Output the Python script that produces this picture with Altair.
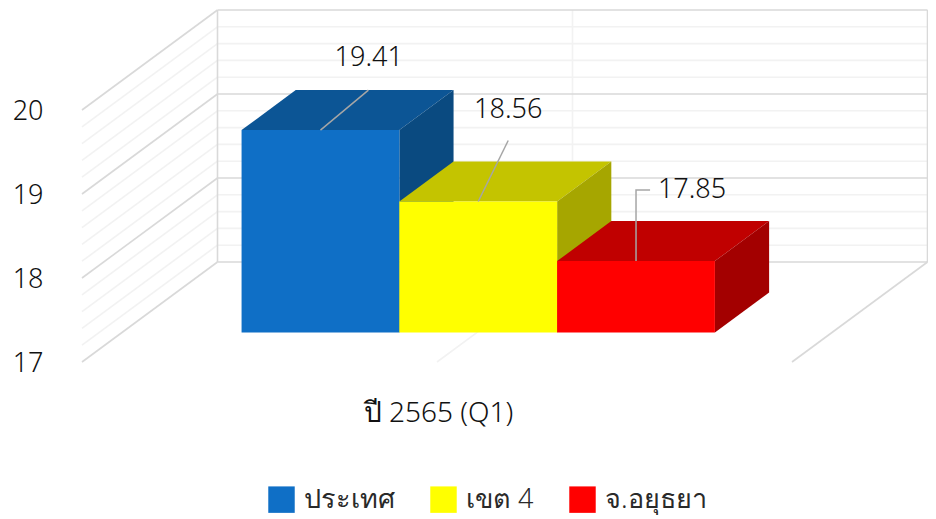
import altair as alt
import pandas as pd

# ---- chart values ----
SERIES = ["ประเทศ", "เขต 4", "จ.อยุธยา"]
VALUES = [19.41, 18.56, 17.85]
LABELS = ["19.41", "18.56", "17.85"]
CATEGORY = "ปี 2565 (Q1)"
FRONT = ["#0F6FC6", "#FFFF00", "#FF0000"]
TOP = ["#0C5595", "#C4C400", "#C00000"]
SIDE = ["#0A4A80", "#A6A600", "#A30000"]
MAJOR = [17, 18, 19, 20]
MINOR = [17.2, 17.4, 17.6, 17.8, 18.2, 18.4, 18.6, 18.8, 19.2, 19.4, 19.6, 19.8]
BASE = 17
# leader and label offsets from each bar's top centre, in (category units, value units)
LEADER_DU = [[0.304], [0.19], [0.0, 0.089]]
LEADER_DV = [[0.476], [0.726], [0.845, 0.845]]
LABEL_DU = [0.306, 0.19, 0.355]
LABEL_DV = [0.857, 1.083, 0.845]

# ---- oblique projection of the 3-D chart box ----
DEPTH_U = 0.8588   # shift in category units for full depth
DEPTH_V = 1.1905   # shift in value units for full depth
WALL_U = 4.5       # 3 bars + gap width 150 %
BAR_LEFT = 0.758
D_FRONT, D_BACK = 0.295, 0.695

PLOT_W, PLOT_H = 846, 354
FONT = "Noto Sans"
WEIGHT = 300
SIZE = 27
TEXT = "#111111"
xscale = alt.Scale(domain=[0, PLOT_W / 157.78], nice=False, zero=False)
yscale = alt.Scale(domain=[17, 17 + PLOT_H / 84], nice=False, zero=False)
xaxis = alt.Axis(
    title=CATEGORY, labels=False, ticks=False, domain=False, grid=False,
    titleX=356, titleY=51, titleFont=FONT, titleFontSize=28,
    titleFontWeight=WEIGHT, titleColor=TEXT,
    titleAlign="center", titleBaseline="middle",
)
yaxis = alt.Axis(
    title=None, values=MAJOR, format="d", ticks=False, domain=False, grid=False,
    labelFont=FONT, labelFontSize=SIZE, labelFontWeight=WEIGHT, labelColor=TEXT,
    labelPadding=39, labelOffset=1,
)


def px(u, d):
    return u + d * DEPTH_U


def py(v, d):
    return v + d * DEPTH_V


X = alt.X("x:Q", scale=xscale, axis=xaxis, stack=False)
Y = alt.Y("y:Q", scale=yscale, axis=yaxis, stack=False)

layers = []


def lines(rows, color, width=1.6):
    df = pd.DataFrame(rows, columns=["id", "x", "y"])
    return alt.Chart(df).mark_line(color=color, strokeWidth=width).encode(x=X, y=Y, detail="id:N")


def wall_rows(values):
    rows = []
    for v in values:
        rows += [(f"L{v}", px(0, 0), py(v, 0)), (f"L{v}", px(0, 1), py(v, 1))]
        rows += [(f"B{v}", px(0, 1), py(v, 1)), (f"B{v}", px(WALL_U, 1), py(v, 1))]
    return rows


layers.append(
    lines(
        wall_rows(MINOR)
        + [("cv", px(WALL_U / 2, 1), py(17, 1)), ("cv", px(WALL_U / 2, 1), py(20, 1))]
        + [("cf", px(WALL_U / 2, 0), py(17, 0)), ("cf", px(WALL_U / 2, 1), py(17, 1))],
        "#F2F2F2",
    )
)
layers.append(
    lines(
        wall_rows(MAJOR)
        + [("rf", px(WALL_U, 0), py(17, 0)), ("rf", px(WALL_U, 1), py(17, 1))]
        + [("lv", px(0, 1), py(17, 1)), ("lv", px(0, 1), py(20, 1))]
        + [("rv", px(WALL_U, 1), py(17, 1)), ("rv", px(WALL_U, 1), py(20, 1))],
        "#D9D9D9",
    )
)

# bars: top, side, then front so that later bars cover earlier ones
color = alt.Color(
    "series:N",
    sort=SERIES,
    scale=alt.Scale(domain=SERIES, range=FRONT),
    legend=alt.Legend(
        title=None, orient="none", legendX=186, legendY=478, direction="horizontal",
        columns=3, symbolType="square", symbolSize=700, symbolStrokeWidth=0,
        labelFont=FONT, labelFontSize=SIZE, labelFontWeight=WEIGHT, labelColor="#2a2a2a", labelOffset=9,
        columnPadding=35, padding=0, labelLimit=200,
    ),
)
for i, (name, val) in enumerate(zip(SERIES, VALUES)):
    u0, u1 = BAR_LEFT + i, BAR_LEFT + i + 1
    top = pd.DataFrame(
        {
            "y": [py(val, D_FRONT), py(val, D_BACK)],
            "x": [px(u0, D_FRONT), px(u0, D_BACK)],
            "x2": [px(u1, D_FRONT), px(u1, D_BACK)],
        }
    )
    layers.append(
        alt.Chart(top)
        .mark_area(orient="horizontal", color=TOP[i])
        .encode(x=X, x2="x2:Q", y=Y)
    )
    side = pd.DataFrame(
        {
            "x": [px(u1, D_FRONT), px(u1, D_BACK)],
            "y": [py(val, D_FRONT), py(val, D_BACK)],
            "y2": [py(BASE, D_FRONT), py(BASE, D_BACK)],
        }
    )
    layers.append(
        alt.Chart(side)
        .mark_area(orient="vertical", color=SIDE[i])
        .encode(x=X, y=Y, y2="y2:Q")
    )
    front = pd.DataFrame(
        {
            "series": [name],
            "x": [px(u0, D_FRONT)],
            "x2": [px(u1, D_FRONT)],
            "y": [py(val, D_FRONT)],
            "y2": [py(BASE, D_FRONT)],
        }
    )
    layers.append(
        alt.Chart(front).mark_rect().encode(x=X, x2="x2:Q", y=Y, y2="y2:Q", color=color)
    )

# leader lines and data labels
rows, label_rows = [], []
for i, val in enumerate(VALUES):
    cx, cy = px(BAR_LEFT + i + 0.5, D_FRONT), py(val, D_FRONT)
    rows.append((i, cx, cy))
    for du, dv in zip(LEADER_DU[i], LEADER_DV[i]):
        rows.append((i, cx + du, cy + dv))
    label_rows.append({"x": cx + LABEL_DU[i], "y": cy + LABEL_DV[i], "t": LABELS[i]})
layers.append(lines(rows, "#A6A6A6", 1.5))
layers.append(
    alt.Chart(pd.DataFrame(label_rows))
    .mark_text(font=FONT, fontSize=SIZE, fontWeight=WEIGHT, color=TEXT, align="center", baseline="middle")
    .encode(x=X, y=Y, text="t:N")
)

chart = (
    alt.layer(*layers)
    .properties(
        width=PLOT_W,
        height=PLOT_H,
        padding={"left": 74, "top": 0, "right": 0, "bottom": 154},
        autosize=alt.AutoSizeParams(type="none"),
        background="white",
    )
    .configure_view(stroke=None)
)

chart.save("out.html", embed_options={"renderer": "svg", "actions": False})
